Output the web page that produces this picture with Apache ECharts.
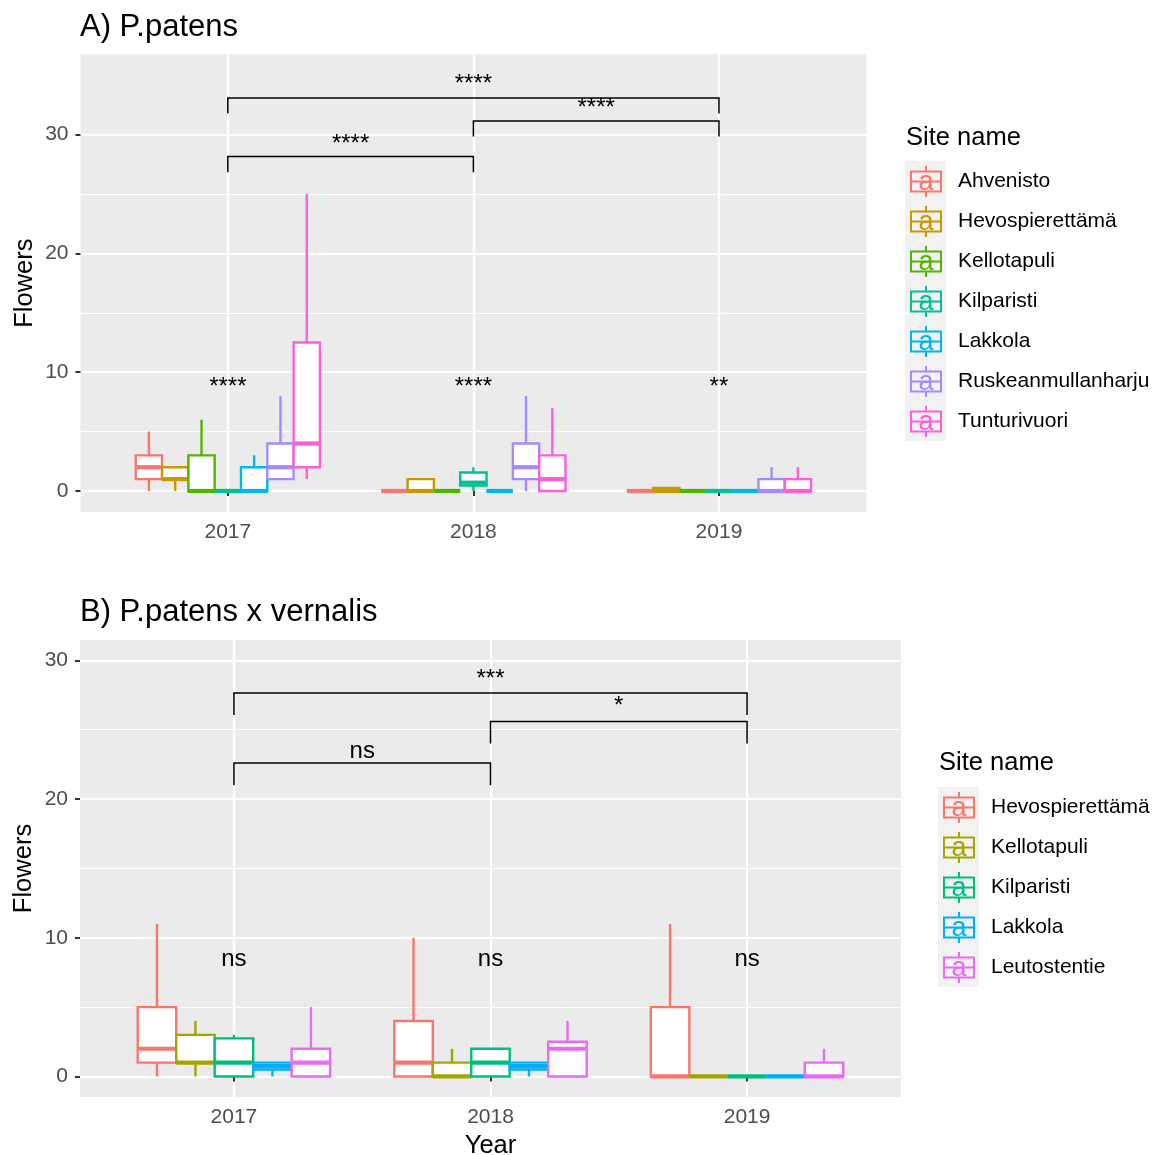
<!DOCTYPE html>
<html>
<head>
<meta charset="utf-8">
<script src="https://cdn.jsdelivr.net/npm/echarts@6/dist/echarts.min.js"></script>
<style>
  html, body { margin: 0; padding: 0; background: #fff; }
  #chart { width: 1153px; height: 1155px; }
</style>
</head>
<body>
<div id="chart"></div>
<script>
const FONT = 'Liberation Sans, Arial, sans-serif';

// x positions (years) shared by both panels
const years = [2017, 2018, 2019];
const yTicks = [0, 10, 20, 30];
const yMinorTicks = [5, 15, 25];

// panel A: P.patens
const sitesA = ['Ahvenisto', 'Hevospierettämä', 'Kellotapuli', 'Kilparisti', 'Lakkola', 'Ruskeanmullanharju', 'Tunturivuori'];
const colorsA = ['#F8766D', '#C49A00', '#53B400', '#00C094', '#00B6EB', '#A58AFF', '#FB61D7'];
// per site, per year: [min, q1, median, q3, max]
const statsA = [
  [[0, 1, 2, 3, 5], [0, 0, 0, 0, 0], [0, 0, 0, 0, 0]],
  [[0, 1, 1, 2, 2], [0, 0, 0, 1, 1], [0, 0, 0, 0.25, 0.25]],
  [[0, 0, 0, 3, 6], [0, 0, 0, 0, 0], [0, 0, 0, 0, 0]],
  [[0, 0, 0, 0, 0], [0, 0.45, 0.7, 1.55, 2], [0, 0, 0, 0, 0]],
  [[0, 0, 0, 2, 3], [0, 0, 0, 0, 0], [0, 0, 0, 0, 0]],
  [[1, 1, 2, 4, 8], [0, 1, 2, 4, 8], [0, 0, 0, 1, 2]],
  [[1, 2, 4, 12.5, 25], [0, 0, 1, 3, 7], [0, 0, 0, 1, 2]],
];
const groupLabelsA = ['****', '****', '**'];
const groupLabelYA = 8.7;
// brackets: [from, to, top, tip end, label y]
const bracketsA = [[2017, 2019, 33.08, 31.77, 34.2], [2018, 2019, 31.14, 29.84, 32.18], [2017, 2018, 28.15, 26.84, 29.2]];
const bracketLabelsA = ['****', '****', '****'];

// panel B: P.patens x vernalis
const sitesB = ['Hevospierettämä', 'Kellotapuli', 'Kilparisti', 'Lakkola', 'Leutostentie'];
const colorsB = ['#F8766D', '#A3A500', '#00BF7D', '#00B0F6', '#E76BF3'];
const statsB = [
  [[0, 1, 2, 5, 11], [0, 0, 1, 4, 10], [0, 0, 0, 5, 11]],
  [[0, 1, 1, 3, 4], [0, 0, 0, 1, 2], [0, 0, 0, 0, 0]],
  [[0, 0, 1, 2.75, 3], [0, 0, 1, 2, 2], [0, 0, 0, 0, 0]],
  [[0, 0.5, 0.75, 1, 1], [0, 0.5, 0.75, 1, 1], [0, 0, 0, 0, 0]],
  [[0, 0, 1, 2, 5], [0, 0, 2, 2.5, 4], [0, 0, 0, 1, 2]],
];
const groupLabelsB = ['ns', 'ns', 'ns'];
const groupLabelYB = 8.45;
const bracketsB = [[2017, 2019, 27.65, 26.06, 28.65], [2018, 2019, 25.6, 24.0, 26.65], [2017, 2018, 22.6, 21.0, 23.46]];
const bracketLabelsB = ['***', '*', 'ns'];

const keyIcon = 'path://M0,4.5h32v2H0z M0,24.5h32v2H0z M0,4.5h2v22H0z M30,4.5h2v22h-2z M0,14.5h32v2H0z M15,0h2v4.5h-2z M15,26.5h2v4.5h-2z';

function boxRenderer(idx, n, color) {
  return (params, api) => {
    const x = api.value(0);
    const band = api.size([1, 0])[0];
    const w = band * 0.75 / n;
    const cx = api.coord([x, 0])[0] + (idx - (n - 1) / 2) * w;
    const y = (i) => api.coord([x, api.value(i)])[1];
    const yMin = y(1), yQ1 = y(2), yMed = y(3), yQ3 = y(4), yMax = y(5);
    const line = { stroke: color, lineWidth: 2.4 };
    return {
      type: 'group',
      children: [
        { type: 'line', shape: { x1: cx, y1: yQ1, x2: cx, y2: yMin }, style: line },
        { type: 'line', shape: { x1: cx, y1: yQ3, x2: cx, y2: yMax }, style: line },
        { type: 'rect', shape: { x: cx - w / 2, y: yQ3, width: w, height: yQ1 - yQ3 }, style: { fill: '#fff', stroke: color, lineWidth: 2.4 } },
        { type: 'line', shape: { x1: cx - w / 2, y1: yMed, x2: cx + w / 2, y2: yMed }, style: { stroke: color, lineWidth: 4.2 } },
      ],
    };
  };
}

function boxSeries(prefix, sites, colors, stats, gridIdx) {
  return sites.map((site, i) => ({
    type: 'custom',
    name: prefix + site,
    xAxisIndex: gridIdx,
    yAxisIndex: gridIdx * 2,
    itemStyle: { color: colors[i] },
    encode: { x: 0, y: [1, 2, 3, 4, 5] },
    data: years.map((yr, j) => [yr].concat(stats[i][j])),
    renderItem: boxRenderer(i, sites.length, colors[i]),
    z: 3,
  }));
}

function bracketSeries(brackets, labels, gridIdx) {
  return {
    type: 'custom',
    xAxisIndex: gridIdx,
    yAxisIndex: gridIdx * 2,
    encode: { x: [0, 1], y: [2, 3, 4] },
    data: brackets,
    z: 5,
    renderItem: (params, api) => {
      const p1 = api.coord([api.value(0), api.value(3)]);
      const p2 = api.coord([api.value(0), api.value(2)]);
      const p3 = api.coord([api.value(1), api.value(2)]);
      const p4 = api.coord([api.value(1), api.value(3)]);
      const t = api.coord([(api.value(0) + api.value(1)) / 2, api.value(4)]);
      return {
        type: 'group',
        children: [
          { type: 'polyline', shape: { points: [p1, p2, p3, p4] }, style: { stroke: '#000', lineWidth: 1.5, fill: null } },
          { type: 'text', x: t[0], y: t[1], style: { text: labels[params.dataIndex], fill: '#000', fontSize: 24, fontFamily: FONT, align: 'center', verticalAlign: 'middle' } },
        ],
      };
    },
  };
}

function groupLabelSeries(labels, labelY, gridIdx) {
  return {
    type: 'custom',
    xAxisIndex: gridIdx,
    yAxisIndex: gridIdx * 2,
    encode: { x: 0, y: 1 },
    data: years.map((yr) => [yr, labelY]),
    z: 5,
    renderItem: (params, api) => {
      const p = api.coord([api.value(0), api.value(1)]);
      return { type: 'text', x: p[0], y: p[1], style: { text: labels[params.dataIndex], fill: '#000', fontSize: 24, fontFamily: FONT, align: 'center', verticalAlign: 'middle' } };
    },
  };
}

function xAxis(gridIdx, name) {
  return {
    type: 'value', gridIndex: gridIdx, min: 2016.4, max: 2019.6,
    name: name || '', nameLocation: 'middle', nameGap: 36, nameMoveOverlap: false,
    nameTextStyle: { fontSize: 25.5, color: '#000', fontFamily: FONT },
    axisLine: { show: false },
    axisTick: { show: true, length: 5, customValues: years, lineStyle: { color: '#333', width: 2 } },
    axisLabel: { customValues: years, margin: 10, fontSize: 21, color: '#4d4d4d', fontFamily: FONT, formatter: (v) => String(v) },
    splitLine: { show: true, lineStyle: { color: '#fff', width: 2.2 } },
  };
}

function yAxes(gridIdx, min, max) {
  return [
    {
      type: 'value', gridIndex: gridIdx, min, max,
      name: 'Flowers', nameLocation: 'middle', nameGap: 43, nameRotate: 90, nameMoveOverlap: false,
      nameTextStyle: { fontSize: 25.5, color: '#000', fontFamily: FONT },
      axisLine: { show: false },
      axisTick: { show: true, length: 5, customValues: yTicks, lineStyle: { color: '#333', width: 2 } },
      axisLabel: { customValues: yTicks, margin: 12, fontSize: 21, color: '#4d4d4d', fontFamily: FONT },
      splitLine: { show: true, lineStyle: { color: '#fff', width: 2.2 } },
    },
    {
      type: 'value', gridIndex: gridIdx, min, max, position: 'left',
      axisLine: { show: false },
      axisTick: { show: false, customValues: yMinorTicks },
      axisLabel: { show: false, customValues: yMinorTicks },
      splitLine: { show: true, lineStyle: { color: '#fff', width: 1.1 } },
    },
  ];
}

function legend(prefix, sites, left, top) {
  return {
    data: sites.map((s) => prefix + s),
    orient: 'vertical', left, top, padding: 0,
    itemWidth: 32, itemHeight: 31, itemGap: 9,
    icon: keyIcon, selectedMode: false,
    itemStyle: { borderWidth: 0 },
    formatter: (n) => n.slice(prefix.length),
    textStyle: { fontSize: 21, color: '#000', fontFamily: FONT, padding: [0, 0, 0, 11] },
  };
}

function keyDecor(sites, colors, bgX, bgY, cx, cy0) {
  const els = [{ type: 'rect', shape: { x: bgX, y: bgY, width: 41, height: sites.length * 40 }, style: { fill: '#f2f2f2' }, z: 0 }];
  sites.forEach((s, i) => {
    els.push({ type: 'text', x: cx, y: cy0 + i * 40 + 1, z: 100, style: { text: 'a', fill: colors[i], fontSize: 27, fontFamily: FONT, align: 'center', verticalAlign: 'middle' } });
  });
  return els;
}

const chart = echarts.init(document.getElementById('chart'));
chart.setOption({
  animation: false,
  backgroundColor: '#fff',
  title: [
    { text: 'A) P.patens', left: 80, top: 12, padding: 0, textStyle: { fontSize: 31, fontWeight: 'normal', color: '#000', fontFamily: FONT } },
    { text: 'B) P.patens x vernalis', left: 80, top: 597, padding: 0, textStyle: { fontSize: 31, fontWeight: 'normal', color: '#000', fontFamily: FONT } },
    { text: 'Site name', left: 906, top: 125, padding: 0, textStyle: { fontSize: 25.5, fontWeight: 'normal', color: '#000', fontFamily: FONT } },
    { text: 'Site name', left: 939, top: 750, padding: 0, textStyle: { fontSize: 25.5, fontWeight: 'normal', color: '#000', fontFamily: FONT } },
  ],
  grid: [
    { left: 80.5, top: 54.3, width: 785.8, height: 457.7, show: true, backgroundColor: '#ebebeb', borderWidth: 0, outerBoundsMode: 'none' },
    { left: 80, top: 640, width: 821, height: 457, show: true, backgroundColor: '#ebebeb', borderWidth: 0, outerBoundsMode: 'none' },
  ],
  xAxis: [xAxis(0), xAxis(1, 'Year')],
  yAxis: yAxes(0, -1.77, 36.76).concat(yAxes(1, -1.48, 31.47)),
  legend: [legend('A:', sitesA, 910, 166), legend('B:', sitesB, 943, 792)],
  graphic: keyDecor(sitesA, colorsA, 905, 161, 926, 181.5).concat(keyDecor(sitesB, colorsB, 938, 787, 959, 807.5)),
  series: [
    ...boxSeries('A:', sitesA, colorsA, statsA, 0),
    ...boxSeries('B:', sitesB, colorsB, statsB, 1),
    bracketSeries(bracketsA, bracketLabelsA, 0),
    bracketSeries(bracketsB, bracketLabelsB, 1),
    groupLabelSeries(groupLabelsA, groupLabelYA, 0),
    groupLabelSeries(groupLabelsB, groupLabelYB, 1),
  ],
});
</script>
</body>
</html>
